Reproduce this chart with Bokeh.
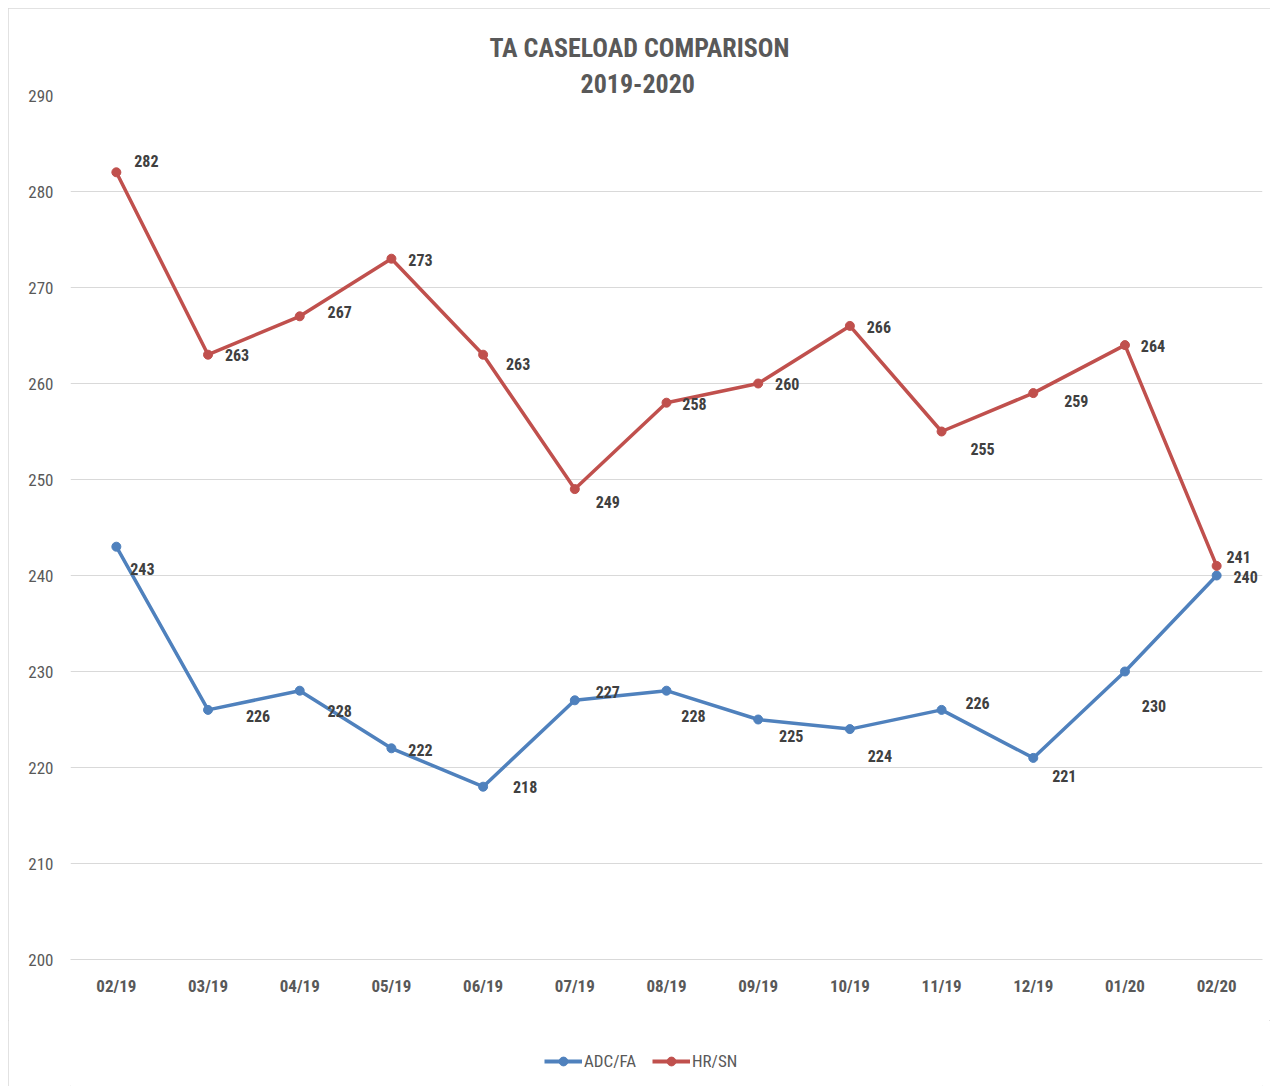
from bokeh.plotting import figure
from bokeh.models import ColumnDataSource, Legend, LegendItem, FactorRange, SingleIntervalTicker, Title, Range1d
from bokeh.layouts import column
from bokeh.core.properties import value
from bokeh.embed import file_html
from bokeh.resources import INLINE

months = ["02/19", "03/19", "04/19", "05/19", "06/19", "07/19", "08/19",
          "09/19", "10/19", "11/19", "12/19", "01/20", "02/20"]
adc_fa = [243, 226, 228, 222, 218, 227, 228, 225, 224, 226, 221, 230, 240]
hr_sn = [282, 263, 267, 273, 263, 249, 258, 260, 266, 255, 259, 264, 241]
series_names = ["ADC/FA", "HR/SN"]

# label offsets (pixels) for the data labels
adc_dx = [26, 50, 40, 29, 42, 33, 27, 33, 30, 36, 31, 29, 29]
adc_dy = [22, 6, 20, 2, 0, -8, 25, 16, 27, -7, 18, 34, 1]
hr_dx = [30, 29, 40, 29, 35, 33, 28, 29, 29, 41, 43, 28, 22]
hr_dy = [-11, 0, -4, 1, 9, 13, 1, 0, 1, 17, 8, 1, -9]

BLUE = "#4f81bd"
RED = "#c0504d"
GRAY = "#595959"
FONT = "'Liberation Sans Narrow', 'Roboto Condensed', 'Open Sans'"

p = figure(x_range=FactorRange(*months), y_range=(200, 290),
           width=1262, height=1012, output_backend="svg", toolbar_location=None,
           min_border_left=62, min_border_right=8, min_border_top=87, min_border_bottom=61)
p.outline_line_color = None
p.background_fill_color = "white"
p.border_fill_color = "white"

p.yaxis.ticker = SingleIntervalTicker(interval=10)
p.ygrid.grid_line_color = "#d9d9d9"
p.ygrid.grid_line_width = 1
p.xgrid.grid_line_color = None
p.yaxis.axis_line_color = None
p.yaxis.major_tick_line_color = None
p.yaxis.minor_tick_line_color = None
p.yaxis.major_tick_out = 0
p.yaxis.minor_tick_out = 0
p.yaxis.major_label_text_color = GRAY
p.yaxis.major_label_text_font = FONT
p.yaxis.major_label_text_font_size = "17px"
p.yaxis.major_label_standoff = 17
p.xaxis.axis_line_color = "#d9d9d9"
p.xaxis.major_tick_line_color = None
p.xaxis.minor_tick_line_color = None
p.xaxis.major_tick_out = 0
p.xaxis.minor_tick_out = 0
p.xaxis.major_label_text_color = GRAY
p.xaxis.major_label_text_font = FONT
p.xaxis.major_label_text_font_style = "bold"
p.xaxis.major_label_text_font_size = "17px"
p.xaxis.major_label_standoff = 16

src_a = ColumnDataSource(dict(x=months, y=adc_fa, t=[str(v) for v in adc_fa], dx=adc_dx, dy=adc_dy))
src_h = ColumnDataSource(dict(x=months, y=hr_sn, t=[str(v) for v in hr_sn], dx=hr_dx, dy=hr_dy))

p.line("x", "y", source=src_a, line_color=BLUE, line_width=3.5)
p.scatter("x", "y", source=src_a, size=9, fill_color=BLUE, line_color=BLUE)
p.line("x", "y", source=src_h, line_color=RED, line_width=3.5)
p.scatter("x", "y", source=src_h, size=9, fill_color=RED, line_color=RED)

for s in (src_a, src_h):
    p.text("x", "y", text="t", source=s, x_offset="dx", y_offset="dy",
           text_align="center", text_baseline="middle", text_color="#404040",
           text_font=value(FONT), text_font_style="bold", text_font_size="16px")

p.add_layout(Title(text="2019-2020", align="left", offset=510, standoff=5,
                   text_color=GRAY, text_font=FONT, text_font_style="bold",
                   text_font_size="26px"), "above")
p.add_layout(Title(text="TA CASELOAD COMPARISON", align="left", offset=419, standoff=14,
                   text_color=GRAY, text_font=FONT, text_font_style="bold",
                   text_font_size="26px"), "above")

# legend strip below the chart
q = figure(width=1262, height=66, output_backend="svg", toolbar_location=None,
           x_axis_type=None, y_axis_type=None,
           x_range=Range1d(0, 1), y_range=Range1d(0, 1),
           min_border_left=0, min_border_right=0, min_border_top=0, min_border_bottom=0)
q.grid.visible = False
q.outline_line_color = None
q.border_fill_color = "white"
offscreen = ColumnDataSource(dict(x=[-5, -6], y=[-5, -6]))
ga = [q.line("x", "y", source=offscreen, line_color=BLUE, line_width=4),
      q.scatter("x", "y", source=offscreen, size=9, fill_color=BLUE, line_color=BLUE)]
gh = [q.line("x", "y", source=offscreen, line_color=RED, line_width=4),
      q.scatter("x", "y", source=offscreen, size=9, fill_color=RED, line_color=RED)]
legend = Legend(items=[LegendItem(label=series_names[0], renderers=ga),
                       LegendItem(label=series_names[1], renderers=gh)],
                orientation="horizontal", location=(474, 14),
                glyph_width=38, glyph_height=22, label_standoff=2, spacing=16,
                background_fill_alpha=0, border_line_color=None,
                label_text_color=GRAY, label_text_font=FONT, label_text_font_size="17px",
                padding=0, margin=0)
q.add_layout(legend, "center")

layout = column(p, q, spacing=0)
layout.styles = {"outline": "1px solid #d9d9d9", "outline-offset": "-1px",
                 "margin-left": "8px", "margin-top": "8px"}

open("out.html", "w").write(file_html(layout, INLINE))
